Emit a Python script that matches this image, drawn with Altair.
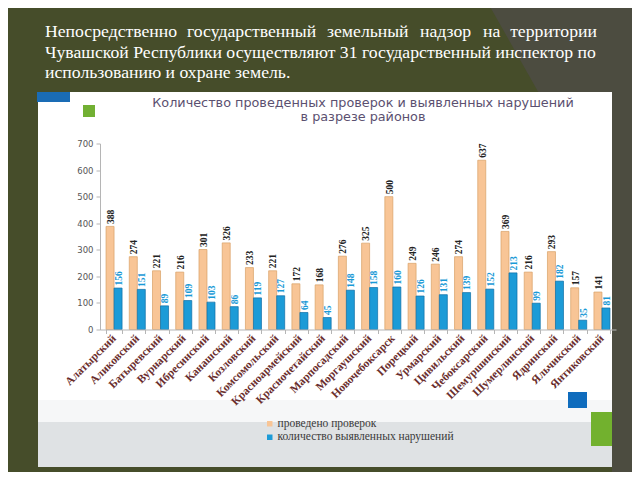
import altair as alt
import pandas as pd

# ---------------- data ----------------
districts = ["Алатырский", "Аликовский", "Батыревский", "Вурнарский", "Ибресинский",
             "Канашский", "Козловский", "Комсомольский", "Красноармейский",
             "Красночетайский", "Марпосадский", "Моргаушский", "Новочебоксарск",
             "Порецкий", "Урмарский", "Цивильский", "Чебоксарский", "Шемуршинский",
             "Шумерлинский", "Ядринский", "Яльчикский", "Янтиковский"]
inspections = [388, 274, 221, 216, 301, 326, 233, 221, 172, 168, 276, 325, 500,
               249, 246, 274, 637, 369, 216, 293, 157, 141]
violations = [156, 151, 89, 109, 103, 86, 119, 127, 64, 45, 148, 158, 160,
              126, 131, 139, 152, 213, 99, 182, 35, 81]
series_names = ["проведено проверок", "количество выявленных нарушений"]
y_ticks = [0, 100, 200, 300, 400, 500, 600, 700]

chart_title = ["Количество проведенных проверок и выявленных нарушений",
               "в разрезе районов"]
para_line1 = ["Непосредственно", "государственный", "земельный", "надзор", "на", "территории"]
para_line2 = "Чувашской Республики осуществляют 31 государственный инспектор по"
para_line3 = "использованию и охране земель."

# ---------------- layout (pixels relative to plot origin) ----------------
OX, OY = 100, 143.5  # plot origin on the page
W, H = 516, 186

def px(x):
    return x - OX

def py(y):
    return y - OY

ORANGE = "#f8c596"
BLUE = "#1c9bd7"

df = pd.DataFrame({
    "district": districts * 2,
    "series": [series_names[0]] * len(districts) + [series_names[1]] * len(districts),
    "value": inspections + violations,
})
one = pd.DataFrame({"k": [0]})


def rect(x, x2, y, y2, color):
    return alt.Chart(one).mark_rect(color=color).encode(
        x=alt.value(px(x)), x2=alt.value(px(x2)), y=alt.value(py(y)), y2=alt.value(py(y2)))


def text(t, x, y, size, font, color, align="left", baseline="alphabetic", weight="normal"):
    return alt.Chart(one).mark_text(
        text=t, align=align, baseline=baseline, font=font, fontSize=size,
        color=color, fontWeight=weight).encode(x=alt.value(px(x)), y=alt.value(py(y)))


layers = []
# grey diagonal band of the slide background
layers.append(alt.Chart(one).mark_rule(color="#4c4c40", strokeWidth=200).encode(
    x=alt.value(px(475)), y=alt.value(py(-223)),
    x2=alt.value(px(918)), y2=alt.value(py(560))))
layers.append(rect(612, 645, 85, 485, "#4c4c40"))
# white chart panel and grey bottom band
layers.append(rect(38, 612, 92, 467, "#ffffff"))
layers.append(rect(38, 612, 400, 422, "#f6f7f8"))
layers.append(rect(38, 612, 422, 467, "#dfe2e4"))
# decorative squares
layers.append(rect(37, 70, 92, 102, "#1a6cb5"))
layers.append(rect(83, 95, 105, 117, "#72b033"))
layers.append(rect(568, 587, 392, 408, "#0f6cbd"))
layers.append(rect(591, 612, 412, 446, "#72b12e"))

# slide paragraph (line 1 justified word by word)
line1_x = [45, 187, 327, 420, 483, 597]
for i, (w, x) in enumerate(zip(para_line1, line1_x)):
    layers.append(text(w, x, 37, 17.7, "Liberation Serif", "#ffffff",
                       align="right" if i == len(para_line1) - 1 else "left"))
layers.append(text(para_line2, 45, 57.5, 17.7, "Liberation Serif", "#ffffff"))
layers.append(text(para_line3, 45, 78, 17.7, "Liberation Serif", "#ffffff"))

# chart heading
layers.append(text(chart_title[0], 363, 103, 12.8, "DejaVu Sans", "#5b5070",
                   align="center", baseline="middle"))
layers.append(text(chart_title[1], 363, 117, 12.8, "DejaVu Sans", "#5b5070",
                   align="center", baseline="middle"))

base = alt.Chart(df)
x_enc = alt.X("district:N", sort=districts, title=None,
              scale=alt.Scale(paddingInner=0.31, paddingOuter=0.26),
              axis=alt.Axis(labelAngle=315, labelAlign="right", labelBaseline="middle",
                            labelFont="Liberation Serif", labelFontWeight="bold",
                            labelFontSize=11.5, labelColor="#6a2e2e", labelPadding=3,
                            labelOverlap=False, tickBand="extent", tickSize=4,
                            tickColor="#b5b5b5", domainColor="#b5b5b5", zindex=2))
xo_enc = alt.XOffset("series:N", sort=series_names, scale=alt.Scale(paddingInner=0))
y_enc = alt.Y("value:Q", title=None, scale=alt.Scale(domain=[0, 700]),
              axis=alt.Axis(values=y_ticks, grid=False, labelFont="DejaVu Sans",
                            labelFontSize=8.5, labelColor="#555555", tickSize=4,
                            labelOverlap=False, labelFlush=False,
                            tickColor="#b5b5b5", domainColor="#b5b5b5", labelPadding=3,
                            zindex=2))

bars = base.mark_bar(strokeWidth=0.7).encode(
    x=x_enc, xOffset=xo_enc, y=y_enc,
    color=alt.Color("series:N", sort=series_names,
                    scale=alt.Scale(domain=series_names, range=[ORANGE, BLUE]),
                    legend=alt.Legend(title=None, orient="none", legendX=164, legendY=274.5,
                                      direction="vertical", symbolType="square",
                                      symbolSize=30, symbolStrokeWidth=0,
                                      labelFont="Liberation Serif", labelFontSize=11.5,
                                      labelColor="#3a3a3a", rowPadding=0.5, labelOffset=2,
                                      padding=0, labelLimit=400, zindex=2)),
    stroke=alt.Stroke("series:N", scale=alt.Scale(domain=series_names,
                                                  range=["#d9a066", "#0e6fa6"]), legend=None),
)

labels = base.mark_text(
    align="left", baseline="middle", dx=2.5, dy=0.8, angle=270, font="Liberation Serif",
    fontWeight="bold", fontSize=9.5).encode(
    x=x_enc, xOffset=xo_enc, y=y_enc, text="value:Q",
    fill=alt.condition(alt.datum.series == series_names[0],
                       alt.value("#222222"), alt.value("#1a9ad6")))

layers += [bars, labels]

chart = alt.layer(*layers).properties(
    width=W, height=H,
    padding={"left": OX - 8, "top": OY - 8, "right": 624 - (OX - 8) - W,
             "bottom": 464 - (OY - 8) - H},
    autosize=alt.AutoSizeParams(type="none"),
    background="#464d2a",
).configure_view(stroke=None)

chart.save("out.html", embed_options={"renderer": "svg", "actions": False})
